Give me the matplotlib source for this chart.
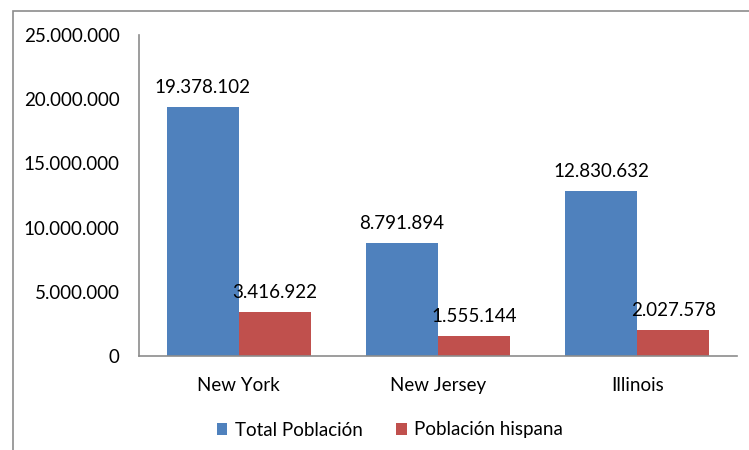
import matplotlib.pyplot as plt
import matplotlib.patches as patches
import matplotlib.ticker as mticker
import numpy as np

plt.rcParams['font.family'] = ['Lato', 'DejaVu Sans']

states = ['New York', 'New Jersey', 'Illinois']
total_pob = [19378102, 8791894, 12830632]
hispana_pob = [3416922, 1555144, 2027578]
series_names = ['Total Población', 'Población hispana']

blue = '#4f81bd'
red = '#c0504d'

def fmt(v):
    return f'{v:,.0f}'.replace(',', '.')

fig = plt.figure(figsize=(7.49, 4.5), dpi=100)

# outer chart border (left and top visible)
fig.patches.append(patches.Rectangle((13 / 749, -0.1), 1.2, 1 - 11 / 450 + 0.1,
                                     transform=fig.transFigure, fill=False,
                                     edgecolor='#8c8c8c', linewidth=1.2))

ax = fig.add_axes([139 / 749, 1 - 356 / 450, (737 - 139) / 749, (356 - 35) / 450])

x = np.arange(len(states))
w = 0.361
b1 = ax.bar(x - w / 2, total_pob, w, color=blue, label=series_names[0])
b2 = ax.bar(x + w / 2, hispana_pob, w, color=red, label=series_names[1])

for bars, vals in [(b1, total_pob), (b2, hispana_pob)]:
    for rect, v in zip(bars, vals):
        ax.annotate(fmt(v), (rect.get_x() + rect.get_width() / 2, v),
                    xytext=(0, 14), textcoords='offset points',
                    ha='center', va='center', fontsize=13.5, color='black')

ax.set_xlim(-0.5, 2.5)
ax.set_ylim(0, 25000000)
ax.yaxis.set_major_locator(mticker.MultipleLocator(5000000))
ax.yaxis.set_major_formatter(mticker.FuncFormatter(lambda v, p: fmt(v)))
ax.set_xticks(x)
ax.set_xticklabels(states)
ax.tick_params(axis='y', length=0, pad=14, labelsize=13.5)
ax.tick_params(axis='x', length=0, pad=15, labelsize=13.5)

for s in ['top', 'right']:
    ax.spines[s].set_visible(False)
for s in ['left', 'bottom']:
    ax.spines[s].set_color('#8c8c8c')
    ax.spines[s].set_linewidth(1.2)

fig.legend(handles=[b1, b2], loc='center', bbox_to_anchor=(390 / 749, 1 - 430 / 450),
           ncol=2, frameon=False, fontsize=13.5, handlelength=0.55, handleheight=0.55,
           handletextpad=0.4, columnspacing=1.8)

fig.savefig('out.png', dpi=100)
